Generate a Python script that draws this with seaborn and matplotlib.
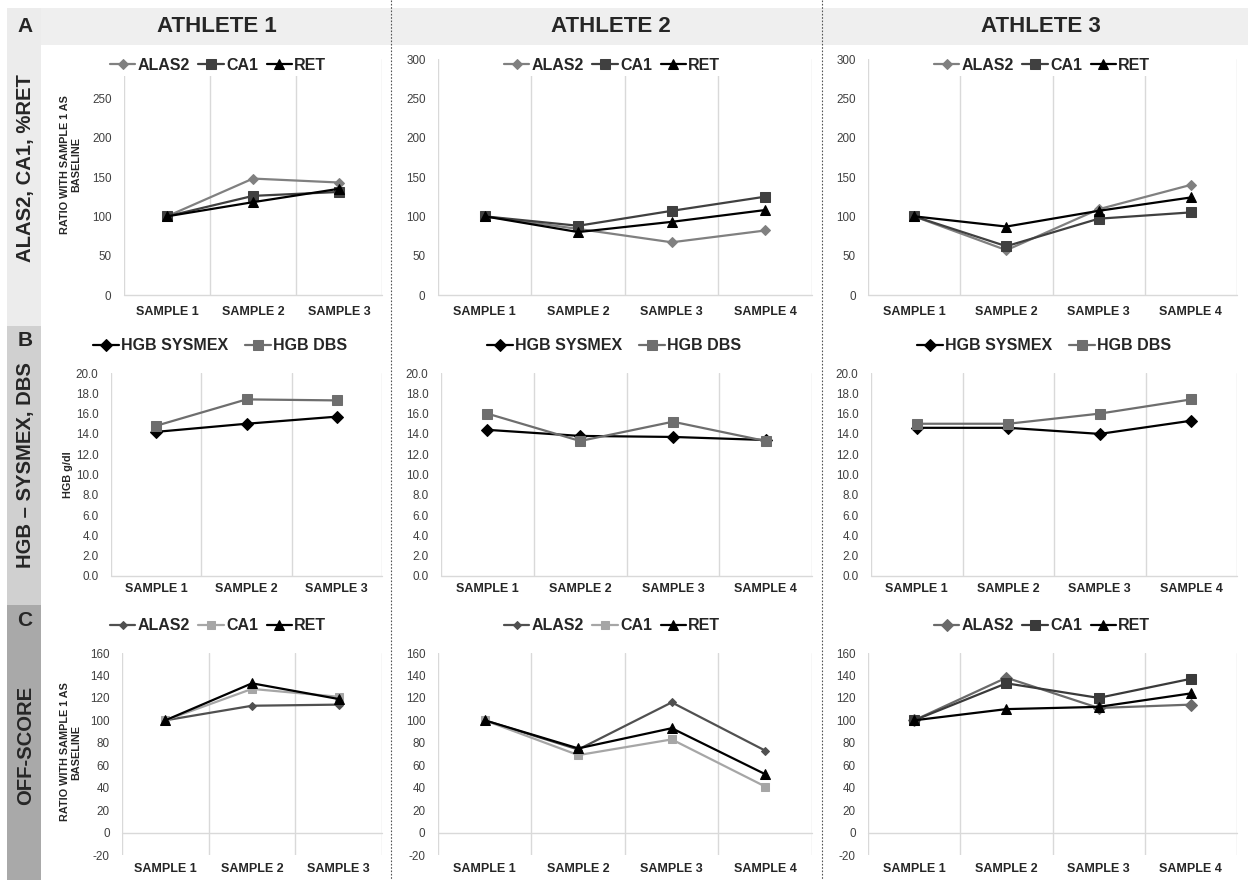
import matplotlib
matplotlib.use('Agg')
import matplotlib.pyplot as plt
from matplotlib.patches import Rectangle
import numpy as np
import seaborn as sns

sns.set_style('white')
plt.rcParams['font.family'] = ['Liberation Sans', 'DejaVu Sans']

# Category labels
samples3 = ['SAMPLE 1', 'SAMPLE 2', 'SAMPLE 3']
samples4 = ['SAMPLE 1', 'SAMPLE 2', 'SAMPLE 3', 'SAMPLE 4']

# Row A - ALAS2, CA1, %RET (ratio vs sample 1)
a1_alas2 = [100, 148, 143]
a1_ca1 = [100, 126, 131]
a1_ret = [100, 118, 135]
a2_alas2 = [100, 84, 67, 82]
a2_ca1 = [100, 88, 107, 125]
a2_ret = [100, 80, 93, 108]
a3_alas2 = [100, 57, 109, 140]
a3_ca1 = [100, 62, 97, 105]
a3_ret = [100, 87, 107, 124]

# Row B - HGB g/dl
b1_sysmex = [14.2, 15.0, 15.7]
b1_dbs = [14.8, 17.4, 17.3]
b2_sysmex = [14.4, 13.8, 13.7, 13.4]
b2_dbs = [16.0, 13.3, 15.2, 13.3]
b3_sysmex = [14.6, 14.6, 14.0, 15.3]
b3_dbs = [15.0, 15.0, 16.0, 17.4]

# Row C - OFF-score (ratio vs sample 1)
c1_alas2 = [100, 113, 114]
c1_ca1 = [100, 128, 121]
c1_ret = [100, 133, 119]
c2_alas2 = [100, 74, 116, 73]
c2_ca1 = [100, 69, 83, 41]
c2_ret = [100, 75, 93, 52]
c3_alas2 = [100, 138, 111, 114]
c3_ca1 = [100, 133, 120, 137]
c3_ret = [100, 110, 112, 124]

W, H = 1248, 880
fig = plt.figure(figsize=(W / 100, H / 100), dpi=100)

# background layer in pixel coordinates
bg = fig.add_axes([0, 0, 1, 1], zorder=-1)
bg.set_xlim(0, W)
bg.set_ylim(H, 0)
bg.axis('off')

bg.add_patch(Rectangle((7, 8), W - 7, 37, color='#efefef', lw=0))
bg.add_patch(Rectangle((7, 8), 34, 318, color='#ececec', lw=0))
bg.add_patch(Rectangle((7, 326), 34, 279, color='#d0d0d0', lw=0))
bg.add_patch(Rectangle((7, 605), 34, 275, color='#a9a9a9', lw=0))
for xs in [391, 822]:
    bg.plot([xs, xs], [0, H], color='#555555', lw=0.8, ls=(0, (1.5, 1.5)))

for cx, t in zip([217, 611, 1041], ['ATHLETE 1', 'ATHLETE 2', 'ATHLETE 3']):
    bg.text(cx, 27, t, ha='center', va='center', fontsize=16, fontweight='bold')

for y, t in zip([27, 341, 620], ['A', 'B', 'C']):
    bg.text(25, y, t, ha='center', va='center', fontsize=15, fontweight='bold')
for y, t in zip([168, 465, 745], ['ALAS2, CA1, %RET', 'HGB \u2013 SYSMEX, DBS', 'OFF-SCORE']):
    bg.text(26, y, t, ha='center', va='center', rotation=90, fontsize=14.6, fontweight='bold')


def add_ax(left, top, right, bottom):
    return fig.add_axes([left / W, 1 - bottom / H, (right - left) / W, (bottom - top) / H])


def draw_panel(ax, cats, series, ylim, yticks, fmt, leg_xy, leg_space, xpad):
    for lab, vals, mk, col, ms in series:
        sns.lineplot(x=cats, y=vals, ax=ax, sort=False, color=col, marker=mk,
                     markersize=ms, markeredgecolor=col, markerfacecolor=col,
                     linewidth=1.6, label=lab, zorder=3)
    n = len(cats)
    ax.set_xlim(-0.5, n - 0.5)
    ax.set_ylim(*ylim)
    ax.set_yticks(yticks)
    ax.set_yticklabels([fmt.format(v) for v in yticks])
    ax.set_xticks(range(n))
    ax.set_xticklabels(cats)
    ax.set_xticks(np.arange(-0.5, n), minor=True)
    ax.grid(False)
    ax.grid(axis='x', which='minor', color='#d9d9d9', lw=1)
    ax.axhline(0, color='#d9d9d9', lw=1, clip_on=False, zorder=1)
    for s in ax.spines.values():
        s.set_visible(False)
    ax.tick_params(axis='both', which='both', length=0)
    ax.tick_params(axis='y', labelsize=8.4, labelcolor='#404040', pad=9)
    ax.tick_params(axis='x', labelsize=9, pad=xpad)
    for t in ax.get_xticklabels():
        t.set_fontweight('bold')
    ax.set_xlabel('')
    ax.set_ylabel('')
    ax.set_facecolor('none')
    h, l = ax.get_legend_handles_labels()
    leg = ax.legend(h, l, loc='center', bbox_to_anchor=leg_xy, bbox_transform=bg.transData,
                    ncol=len(h), frameon=True, facecolor='white', edgecolor='none',
                    framealpha=1, prop={'weight': 'bold', 'size': 11.5},
                    handlelength=1.6, handletextpad=0.12, columnspacing=leg_space,
                    borderpad=0.2)
    leg.set_zorder(5)


cols_a = [(124, 382), (438, 812), (868, 1237)]
cols_b = [(111, 382), (441, 812), (871, 1237)]
cols_c = [(122, 382), (438, 812), (868, 1237)]
leg_x = [218, 612, 1042]

# Row A
a_data = [(samples3, a1_alas2, a1_ca1, a1_ret),
          (samples4, a2_alas2, a2_ca1, a2_ret),
          (samples4, a3_alas2, a3_ca1, a3_ret)]
for i, (cats, al, ca, re) in enumerate(a_data):
    ax = add_ax(cols_a[i][0], 59, cols_a[i][1], 295)
    series = [('ALAS2', al, 'D', '#808080', 5),
              ('CA1', ca, 's', '#404040', 7),
              ('RET', re, '^', '#000000', 7)]
    ticks = list(range(0, 251, 50)) if i == 0 else list(range(0, 301, 50))
    draw_panel(ax, cats, series, (0, 300), ticks, '{:d}', (leg_x[i], 65), 0.55, 8)
    if i == 0:
        ax.set_ylabel('RATIO WITH SAMPLE 1 AS\nBASELINE', fontsize=7.8, fontweight='bold')
        ax.yaxis.set_label_coords(70.5, 165, transform=bg.transData)
        ax.yaxis.label.set_verticalalignment('center')

# Row B
b_data = [(samples3, b1_sysmex, b1_dbs),
          (samples4, b2_sysmex, b2_dbs),
          (samples4, b3_sysmex, b3_dbs)]
for i, (cats, sy, db) in enumerate(b_data):
    ax = add_ax(cols_b[i][0], 373, cols_b[i][1], 576)
    series = [('HGB SYSMEX', sy, 'D', '#000000', 6),
              ('HGB DBS', db, 's', '#6e6e6e', 6.5)]
    draw_panel(ax, cats, series, (0, 20), list(np.arange(0, 20.1, 2.0)), '{:.1f}',
               (leg_x[i] + 2, 346), 1.1, 5)
    if i == 0:
        ax.set_ylabel('HGB g/dl', fontsize=7.8, fontweight='bold')
        ax.yaxis.set_label_coords(68, 475, transform=bg.transData)
        ax.yaxis.label.set_verticalalignment('center')

# Row C
c_styles = [[('ALAS2', 'D', '#505050', 4), ('CA1', 's', '#a6a6a6', 5.5), ('RET', '^', '#000000', 7)],
            [('ALAS2', 'D', '#505050', 4), ('CA1', 's', '#a6a6a6', 5.5), ('RET', '^', '#000000', 7)],
            [('ALAS2', 'D', '#6a6a6a', 6), ('CA1', 's', '#3a3a3a', 7), ('RET', '^', '#000000', 6.5)]]
c_data = [(samples3, c1_alas2, c1_ca1, c1_ret),
          (samples4, c2_alas2, c2_ca1, c2_ret),
          (samples4, c3_alas2, c3_ca1, c3_ret)]
for i, (cats, al, ca, re) in enumerate(c_data):
    ax = add_ax(cols_c[i][0], 653, cols_c[i][1], 855)
    vals = [al, ca, re]
    series = [(lab, v, mk, col, ms) for (lab, mk, col, ms), v in zip(c_styles[i], vals)]
    draw_panel(ax, cats, series, (-20, 160), list(range(-20, 161, 20)), '{:d}',
               (leg_x[i], 626), 0.55, 6)
    if i == 0:
        ax.set_ylabel('RATIO WITH SAMPLE 1 AS\nBASELINE', fontsize=7.8, fontweight='bold')
        ax.yaxis.set_label_coords(70.5, 752, transform=bg.transData)
        ax.yaxis.label.set_verticalalignment('center')

fig.savefig('out.png', dpi=100)
